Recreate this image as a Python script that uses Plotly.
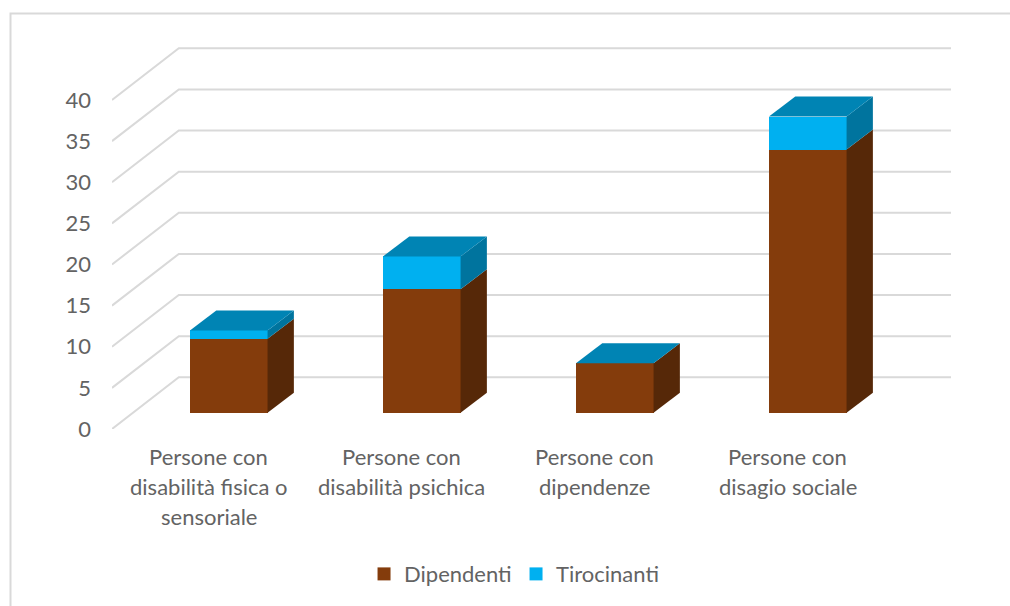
import plotly.graph_objects as go

categories = [
    ["Persone con", "disabilità fisica o", "sensoriale"],
    ["Persone con", "disabilità psichica"],
    ["Persone con", "dipendenze"],
    ["Persone con", "disagio sociale"],
]
dipendenti = [9, 15, 6, 32]
tirocinanti = [1, 4, 0, 4]
y_ticks = [0, 5, 10, 15, 20, 25, 30, 35, 40]

BROWN, BROWN_SIDE = "#843C0C", "#562808"
BLUE, BLUE_SIDE, BLUE_TOP = "#00B0F0", "#00749E", "#0084B4"
GRID, TEXT = "#D9D9D9", "#636363"
FONT = "Lato, Carlito, sans-serif"

# Oblique projection, in axis units
W = 1010; H = 606
L, R, T, B = 112, 59, 40, 177
PX_X = 193.0
PX_Y = 8.225
X0, X1 = -0.605, 3.742
Y1 = (H - T - B) / PX_Y
BAR_W = 77.6 / PX_X
FLOOR = 16.3 / PX_Y          # lift of the bar front above the front floor edge
BAR_DX, BAR_DY = 26.3 / PX_X, 20.0 / PX_Y
WALL_DX, WALL_DY = 66.8 / PX_X, 51.7 / PX_Y

xs = list(range(len(categories)))
fig = go.Figure()

# Front faces
fig.add_bar(x=xs, y=dipendenti, base=[FLOOR] * 4, width=BAR_W, marker_color=BROWN,
            marker_line_width=0, name="Dipendenti", showlegend=False)
fig.add_bar(x=xs, y=tirocinanti, base=[FLOOR + d for d in dipendenti], width=BAR_W,
            marker_color=BLUE, marker_line_width=0, name="Tirocinanti", showlegend=False)


def poly(px, py, color):
    fig.add_scatter(x=px, y=py, mode="lines", fill="toself", fillcolor=color,
                    line=dict(width=0, color=color), hoverinfo="skip", showlegend=False)


for x, d, t in zip(xs, dipendenti, tirocinanti):
    xr = x + BAR_W / 2
    xl = x - BAR_W / 2
    for lo, hi, c in [(0, d, BROWN_SIDE), (d, d + t, BLUE_SIDE)]:
        if hi > lo:
            poly([xr, xr + BAR_DX, xr + BAR_DX, xr, xr],
                 [FLOOR + lo, FLOOR + lo + BAR_DY, FLOOR + hi + BAR_DY, FLOOR + hi, FLOOR + lo], c)
    top = FLOOR + d + t
    poly([xl, xl + BAR_DX, xr + BAR_DX, xr, xl],
         [top, top + BAR_DY, top + BAR_DY, top, top], BLUE_TOP)

# Legend entries
for name, c in [("Dipendenti", BROWN), ("Tirocinanti", BLUE)]:
    fig.add_scatter(x=[None], y=[None], mode="markers", name=name,
                    marker=dict(symbol="square", size=13, color=c))

# Gridlines: floor edge rising to the back wall, then along the wall
shapes = []
for v in y_ticks:
    wx = X0 + WALL_DX
    wy = v + WALL_DY
    shapes.append(dict(type="path", layer="below", xref="x", yref="y",
                       path=f"M {X0} {v} L {wx} {wy} L {X1} {wy}",
                       line=dict(color=GRID, width=2)))
# Outer frame
PW, PH = W - L - R, H - T - B
shapes.append(dict(type="path", layer="below", xref="paper", yref="paper",
                   path=f"M {-(L-10.5)/PW} {-B/PH} L {-(L-10.5)/PW} {1+(T-13.5)/PH} L {1+R/PW} {1+(T-13.5)/PH}",
                   line=dict(color=GRID, width=2)))

annotations = []
for x, lines in zip(xs, categories):
    for i, text in enumerate(lines):
        annotations.append(dict(x=x - 20 / PX_X, y=0, xref="x", yref="y", text=text, showarrow=False,
                                yshift=-(27 + 30 * i), xanchor="center", yanchor="middle",
                                font=dict(family=FONT, size=22, color=TEXT)))

fig.update_layout(
    width=W, height=H, margin=dict(l=L, r=R, t=T, b=B, pad=0, autoexpand=False),
    paper_bgcolor="white", plot_bgcolor="rgba(0,0,0,0)", barmode="overlay", bargap=0,
    shapes=shapes, annotations=annotations, hovermode=False,
    xaxis=dict(range=[X0, X1], visible=False),
    yaxis=dict(range=[0, Y1], tickvals=y_ticks, showgrid=False, zeroline=False, showline=False,
               ticks="", ticklabelstandoff=20, tickfont=dict(family=FONT, size=22, color=TEXT)),
    legend=dict(orientation="h", x=0.3004, xanchor="left", y=-0.373, yanchor="middle",
                entrywidth=107, entrywidthmode="pixels",
                font=dict(family=FONT, size=22, color=TEXT), bgcolor="rgba(0,0,0,0)"),
)
fig.write_html("out.html", default_width=f"{W}px", default_height=f"{H}px",
               config={"displayModeBar": False},
               post_script="document.body.style.margin='0';")
